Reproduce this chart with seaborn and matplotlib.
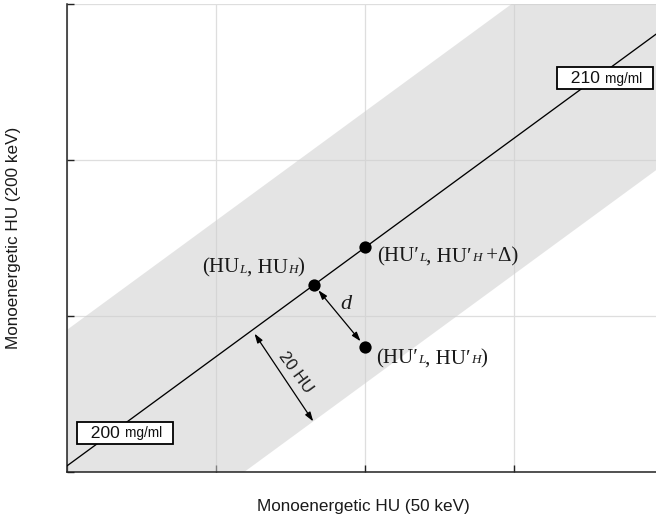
import numpy as np
import pandas as pd
import matplotlib
matplotlib.use("Agg")
import matplotlib.pyplot as plt
import seaborn as sns
from matplotlib.offsetbox import TextArea, HPacker, AnnotationBbox

# Iso-concentration line in the (50 keV, 200 keV) HU plane
line_x = [0.0, 112.0]
line_slope = 0.70
line_intercept = 1.1
tolerance_hu = 20.0            # half-width of the acceptance band, perpendicular to the line

# Measured points: on the line, shifted copy, and the off-line sample
point_names = ["ref", "shifted", "sample"]
point_x = [46.4, 56.0, 56.0]
point_y = [line_intercept + line_slope * 46.4, line_intercept + line_slope * 56.0, 22.5]

# Concentration labels at each end of the line
conc_values = ["200", "210"]
conc_x = [10.9, 101.1]
conc_y = [7.0, 70.7]

x_ticks = [0, 28, 56, 84, 112]
y_ticks = [0, 28, 56, 84]

sns.set_theme(style="white")
plt.rcParams["font.family"] = ["Liberation Sans", "DejaVu Sans"]

fig = plt.figure(figsize=(6.56, 5.2), dpi=100)
ax = fig.add_axes([67 / 656, 48 / 520, 596 / 656, 468 / 520])

line_y = [line_intercept + line_slope * x for x in line_x]
vert_off = tolerance_hu * np.sqrt(1 + line_slope ** 2)

# tolerance band
bx = np.array([-10.0, 130.0])
by = line_intercept + line_slope * bx
ax.fill_between(bx, by - vert_off, by + vert_off, color="#cfcfcf", alpha=0.55,
                linewidth=0, zorder=1)

line_df = pd.DataFrame({"x": line_x, "y": line_y})
sns.lineplot(data=line_df, x="x", y="y", ax=ax, color="black", linewidth=0.95, zorder=3)

pts = pd.DataFrame({"name": point_names, "x": point_x, "y": point_y})
sns.scatterplot(data=pts, x="x", y="y", ax=ax, color="black", s=78,
                edgecolor="black", linewidth=0, zorder=5)

ax.set_xlim(0, 112)
ax.set_ylim(0, 84)
ax.set_xticks(x_ticks)
ax.set_yticks(y_ticks)
ax.set_xticklabels([])
ax.set_yticklabels([])
ax.grid(True, color="#dedede", linewidth=0.9)
ax.set_axisbelow(True)
for s in ["top", "right"]:
    ax.spines[s].set_visible(False)
for s in ["left", "bottom"]:
    ax.spines[s].set_color("#222222")
    ax.spines[s].set_linewidth(1.1)
ax.tick_params(direction="in", length=5, width=1.0, color="#222222", left=True, bottom=True)

ax.set_xlabel("Monoenergetic HU (50 keV)", fontsize=12.3, color="#1a1a1a")
ax.set_ylabel("Monoenergetic HU (200 keV)", fontsize=12.3, color="#1a1a1a")
ax.xaxis.set_label_coords(0.497, -0.058)
ax.yaxis.set_label_coords(-0.078, 0.5)

SERIF = ["Liberation Serif", "DejaVu Serif"]


def serif_label(pieces, xy, offset, align):
    kids = []
    for txt, size, style in pieces:
        kids.append(TextArea(txt, textprops=dict(fontsize=size, family=SERIF,
                                                 style=style, color="#1a1a1a")))
    pack = HPacker(children=kids, align="baseline", pad=0, sep=0)
    ab = AnnotationBbox(pack, xy, xybox=offset, boxcoords="offset points",
                        box_alignment=align, frameon=False, zorder=6)
    ax.add_artist(ab)


MAIN, SUB = 15, 9.5
serif_label([("(HU", MAIN, "normal"), ("L", SUB, "italic"), (", HU", MAIN, "normal"),
             ("H", SUB, "italic"), (")", MAIN, "normal")],
            (point_x[0], point_y[0]), (-7, 12), (1, 0.5))
serif_label([("(HU\u2032", MAIN, "normal"), ("L", SUB, "italic"), (", HU\u2032", MAIN, "normal"),
             ("H", SUB, "italic"), (" +\u0394)", MAIN, "normal")],
            (point_x[1], point_y[1]), (8.5, -6.5), (0, 0.5))
serif_label([("(HU\u2032", MAIN, "normal"), ("L", SUB, "italic"), (", HU\u2032", MAIN, "normal"),
             ("H", SUB, "italic"), (")", MAIN, "normal")],
            (point_x[2], point_y[2]), (8, -8.5), (0, 0.5))

# distance d between the sample and the line
arrow_kw = dict(arrowstyle="<|-|>,head_length=0.55,head_width=0.18", color="black",
                lw=0.9, mutation_scale=10)
ax.annotate("", xy=(point_x[2], point_y[2]), xytext=(point_x[0], point_y[0]),
            arrowprops=dict(**arrow_kw, shrinkA=5, shrinkB=5), zorder=4)
ax.text(52.4, 30.0, "d", fontsize=16, family=SERIF, style="italic",
        ha="center", va="center", color="#1a1a1a")

# band half-width arrow, perpendicular to the line
x0 = 34.8
start = np.array([x0, line_intercept + line_slope * x0])
normal = np.array([line_slope, -1.0]) / np.sqrt(1 + line_slope ** 2)
end = start + tolerance_hu * normal
ax.annotate("", xy=end, xytext=start,
            arrowprops=dict(**arrow_kw, shrinkA=3, shrinkB=0), zorder=4)
ax.text(42.9, 17.8, f"{tolerance_hu:.0f} HU", fontsize=12, rotation=-54,
        rotation_mode="anchor", ha="center", va="center", color="#1a1a1a")

# concentration boxes
for val, cx, cy in zip(conc_values, conc_x, conc_y):
    kids = [TextArea("  " + val + " ", textprops=dict(fontsize=12.6, color="#111111")),
            TextArea("mg/ml  ", textprops=dict(fontsize=9.8, color="#111111"))]
    pack = HPacker(children=kids, align="baseline", pad=0, sep=0)
    ab = AnnotationBbox(pack, (cx, cy), box_alignment=(0.5, 0.5), frameon=True,
                        pad=0.25, zorder=7,
                        bboxprops=dict(boxstyle="square,pad=0.25", facecolor="white",
                                       edgecolor="black", linewidth=1.3))
    ax.add_artist(ab)

fig.savefig("out.png", dpi=100)
